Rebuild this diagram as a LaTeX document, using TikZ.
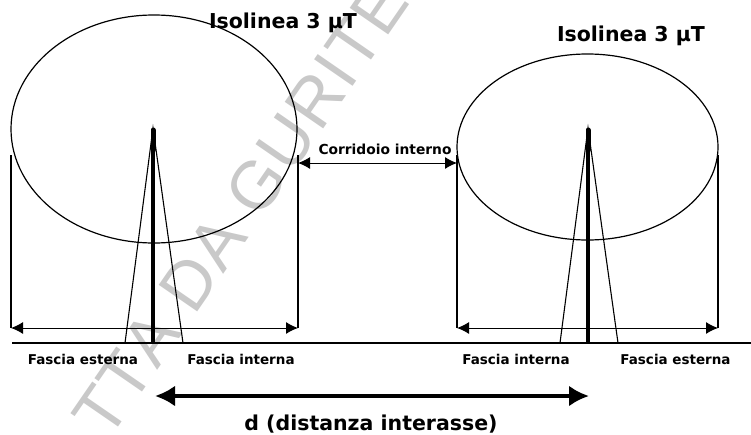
\documentclass[tikz,border=0pt]{standalone}
\usepackage{fontspec}
\setmainfont{DejaVu Sans}
\newfontfamily\wmfont[LetterSpace=2.5,Kerning=Off]{Liberation Sans}
\usetikzlibrary{arrows.meta,shapes.geometric}
\tikzset{
  x=1pt,y=-1pt,
  lbl/.style={inner sep=0pt,font=\bfseries\fontsize{13.5}{15}\selectfont},
  ttl/.style={inner sep=0pt,font=\bfseries\fontsize{20.5}{24}\selectfont},
  thinline/.style={draw=black,line width=1.1pt},
  iso/.style={draw=black,line width=1.2pt,shape=ellipse,inner sep=0pt},
  mast/.style={draw=black,line width=3.6pt},
  masttop/.style={draw=black,line width=5pt,line cap=round},
  dim/.style={draw=black,line width=1pt,{Latex[length=12pt,width=12pt]}-{Latex[length=12pt,width=12pt]}}
}
\begin{document}
\begin{tikzpicture}
\useasboundingbox (0,0) rectangle (751,434);
\clip (0,0) rectangle (751,434);
% watermark
\node[rotate=55.4,anchor=base west,inner sep=0pt,text=black!21,font=\wmfont\fontsize{68}{68}\selectfont] (wm) at (108,442) {TTA DA GURITEL};
% isolines
\node[iso,minimum width=286pt,minimum height=228pt] (eL) at (154,129) {};
\node[iso,minimum width=261pt,minimum height=186pt] (eR) at (587.5,147) {};
\coordinate (g0) at (12,343); \coordinate (g1) at (751,343);
\draw[draw=black,line width=1.5pt] (g0) -- (g1);
\coordinate (tL) at (153,130); \coordinate (bL) at (153,343);
\coordinate (aL) at (153,128); \coordinate (cL) at (125,343); \coordinate (dL) at (183,343);
\coordinate (kL) at (153,150);
\draw[mast] (tL) -- (bL);
\draw[masttop] (tL) -- (kL);
\draw[thinline] (cL) -- (aL) -- (dL);
\coordinate (tR) at (588,130); \coordinate (bR) at (588,343);
\coordinate (aR) at (588,128); \coordinate (cR) at (560,343); \coordinate (dR) at (618,343);
\coordinate (kR) at (588,150);
\draw[mast] (tR) -- (bR);
\draw[masttop] (tR) -- (kR);
\draw[thinline] (cR) -- (aR) -- (dR);
% verticals
\coordinate (v1a) at (11,155); \coordinate (v1b) at (11,328);
\coordinate (v2a) at (298,155); \coordinate (v2b) at (298,328);
\coordinate (v3a) at (457,155); \coordinate (v3b) at (457,328);
\coordinate (v4a) at (718,155); \coordinate (v4b) at (718,328);
\draw[thinline] (v1a) -- (v1b);
\draw[thinline] (v2a) -- (v2b);
\draw[thinline] (v3a) -- (v3b);
\draw[thinline] (v4a) -- (v4b);
\draw[dim] (v1b) -- (v2b);
\draw[dim] (v3b) -- (v4b);
\coordinate (c1) at (298,163); \coordinate (c2) at (457,163);
\draw[dim] (c1) -- (c2);
\coordinate (d1) at (155,396); \coordinate (d2) at (589,396);
\draw[draw=black,line width=4pt,{Latex[length=20pt,width=21pt]}-{Latex[length=20pt,width=21pt]}] (d1) -- (d2);
% labels
\node[ttl] (t1) at (283,23) {Isolinea 3 µT};
\node[ttl] (t2) at (631,36) {Isolinea 3 µT};
\node[lbl,font=\bfseries\fontsize{13.8}{15}\selectfont] (n1) at (385,149) {Corridoio interno};
\node[lbl] (n2) at (83,359) {Fascia esterna};
\node[lbl] (n3) at (241,359) {Fascia interna};
\node[lbl] (n4) at (516,359) {Fascia interna};
\node[lbl] (n5) at (675.5,359) {Fascia esterna};
\node[ttl] (n6) at (371,424) {d (distanza interasse)};
\end{tikzpicture}
\end{document}
